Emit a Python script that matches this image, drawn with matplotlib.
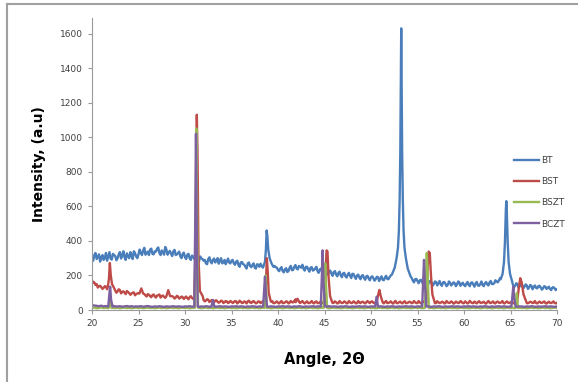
import numpy as np
import matplotlib.pyplot as plt
from matplotlib.lines import Line2D

# --- data (angle 2theta vs intensity, a.u.) ---
grid_x = np.arange(20, 70.001, 0.25)
mid_x = np.arange(20.125, 70, 0.25)

bt_base = [300,
    318, 295, 322, 305, 290, 330, 310, 298, 325, 312, 300, 335, 315, 305, 328, 300, 318, 340, 310, 322,
    330, 345, 320, 338, 350, 325, 340, 355, 330, 345, 320, 350, 335, 325, 340, 318, 330, 310, 325, 305,
    320, 300, 315, 295, 290, 280, 300, 285, 270, 295, 280, 290, 275, 300, 285, 270, 290, 280, 275, 285,
    270, 280, 260, 275, 265, 250, 270, 255, 260, 245, 265, 250, 255, 262, 250, 258, 245, 240, 248, 232,
    240, 225, 235, 220, 245, 230, 250, 240, 255, 245, 238, 250, 235, 245, 228, 240, 225, 235, 220, 228,
    215, 225, 210, 220, 205, 215, 200, 212, 195, 205, 198, 210, 192, 200, 188, 198, 185, 195, 182, 190,
    185, 178, 190, 182, 175, 188, 180, 190, 185, 195, 200, 215, 230, 200, 185, 175, 180, 170, 178, 168,
    172, 160, 168, 155, 165, 158, 150, 162, 155, 148, 160, 152, 145, 158, 150, 155, 148, 160, 150, 145,
    152, 145, 158, 148, 155, 142, 150, 145, 155, 148, 160, 150, 155, 165, 170, 180, 170, 160, 150, 145,
    148, 140, 150, 138, 145, 135, 142, 130, 140, 135, 128, 138, 130, 125, 135, 128, 122, 130, 125, 120]

bt_mid = [
    285, 330, 308, 280, 318, 300, 285, 335, 292, 318, 288, 322, 298, 340, 290, 312, 335, 295, 330, 300,
    350, 318, 360, 330, 318, 355, 322, 338, 362, 318, 335, 365, 320, 342, 312, 348, 322, 338, 300, 332,
    295, 325, 290, 310, 305, 270, 310, 295, 290, 265, 305, 270, 298, 285, 268, 300, 275, 265, 298, 270,
    290, 262, 285, 250, 278, 262, 240, 275, 248, 270, 240, 262, 268, 245, 270, 240, 262, 230, 255, 245,
    225, 248, 218, 242, 225, 255, 232, 260, 235, 250, 262, 228, 250, 222, 248, 232, 250, 215, 240, 210,
    235, 205, 228, 198, 225, 195, 222, 190, 215, 188, 215, 185, 208, 180, 205, 178, 202, 175, 198, 172,
    195, 170, 192, 168, 195, 172, 198, 178, 200, 185, 210, 220, 210, 190, 172, 185, 165, 185, 160, 180,
    155, 175, 148, 172, 145, 168, 140, 165, 142, 168, 140, 162, 138, 165, 142, 160, 138, 165, 140, 158,
    138, 162, 138, 160, 135, 162, 140, 165, 138, 162, 142, 168, 150, 172, 160, 185, 182, 150, 165, 140,
    158, 132, 155, 128, 150, 125, 148, 122, 145, 120, 142, 125, 140, 118, 138, 122, 135, 115, 132, 115]

bst_base = [172,
    160, 150, 138, 132, 128, 135, 140, 125, 118, 112, 108, 115, 105, 100, 110, 98, 95, 102, 92, 98,
    96, 90, 85, 92, 80, 86, 78, 84, 90, 80, 76, 82, 74, 80, 76, 72, 78, 70, 74, 72,
    68, 74, 70, 66, 72, 75, 62, 58, 55, 60, 52, 50, 55, 48, 46, 52, 45, 50, 44, 48,
    46, 50, 44, 48, 42, 46, 50, 44, 48, 45, 42, 48, 44, 46, 42, 45, 48, 40, 44, 42,
    46, 40, 44, 48, 42, 45, 52, 58, 54, 46, 42, 45, 40, 44, 42, 46, 40, 44, 42, 45,
    44, 40, 46, 42, 45, 40, 44, 42, 46, 40, 44, 42, 45, 40, 43, 46, 42, 45, 44, 48,
    42, 45, 40, 44, 42, 46, 40, 44, 42, 45, 40, 44, 42, 46, 40, 43, 45, 42, 44, 40,
    44, 42, 46, 40, 44, 42, 45, 40, 44, 42, 46, 40, 44, 42, 45, 40, 44, 42, 46, 40,
    44, 42, 45, 40, 43, 46, 42, 44, 40, 45, 42, 44, 40, 46, 42, 44, 40, 45, 42, 44,
    42, 44, 40, 45, 42, 44, 40, 43, 45, 42, 40, 44, 42, 45, 40, 43, 42, 44, 40, 42]

bst_mid = [
    158, 145, 130, 140, 122, 138, 120, 130, 105, 118, 100, 120, 96, 108, 92, 104, 88, 100, 85, 96,
    100, 82, 92, 78, 88, 74, 90, 72, 86, 72, 84, 70, 86, 68, 80, 66, 82, 66, 78, 64,
    78, 62, 80, 64, 66, 70, 58, 66, 50, 62, 46, 58, 44, 56, 42, 54, 40, 52, 40, 52,
    40, 52, 38, 54, 40, 50, 38, 54, 40, 52, 38, 50, 40, 52, 40, 48, 38, 52, 40, 50,
    38, 52, 40, 50, 38, 52, 44, 62, 48, 40, 52, 38, 50, 40, 52, 38, 50, 40, 52, 38,
    50, 38, 52, 40, 50, 38, 52, 40, 50, 38, 52, 40, 50, 38, 52, 40, 48, 38, 52, 40,
    50, 39, 51, 40, 49, 38, 52, 41, 50, 37, 53, 40, 49, 38, 51, 40, 48, 39, 52, 40,
    52, 38, 50, 41, 49, 37, 53, 39, 51, 40, 48, 38, 52, 41, 50, 37, 49, 40, 52, 39,
    50, 38, 53, 40, 49, 38, 51, 41, 48, 37, 52, 40, 50, 38, 49, 41, 52, 38, 50, 40,
    49, 38, 52, 40, 50, 37, 51, 39, 48, 40, 52, 38, 49, 41, 50, 37, 48, 40, 50, 38]

bszt_base = [12,
    14, 10, 12, 15, 11, 13, 10, 14, 12, 11, 13, 10, 12, 14, 11, 13, 10, 12, 14, 11,
    13, 10, 12, 14, 11, 13, 10, 12, 14, 11, 13, 10, 12, 14, 11, 13, 10, 12, 14, 11,
    13, 10, 12, 14, 11, 13, 10, 12, 14, 11, 13, 10, 12, 14, 11, 13, 10, 12, 14, 11,
    13, 10, 12, 14, 11, 13, 10, 12, 14, 11, 13, 10, 12, 14, 11, 13, 10, 12, 14, 11,
    13, 10, 12, 14, 11, 13, 10, 12, 14, 11, 13, 10, 12, 14, 11, 13, 10, 12, 14, 11,
    13, 10, 12, 14, 11, 13, 10, 12, 14, 11, 13, 10, 12, 14, 11, 13, 10, 12, 14, 11,
    13, 10, 12, 14, 11, 13, 10, 12, 14, 11, 13, 10, 12, 14, 11, 13, 10, 12, 14, 11,
    13, 10, 12, 14, 11, 13, 10, 12, 14, 11, 13, 10, 12, 14, 11, 13, 10, 12, 14, 11,
    13, 10, 12, 14, 11, 13, 10, 12, 14, 11, 13, 10, 12, 14, 11, 13, 10, 12, 14, 11,
    13, 10, 12, 14, 11, 13, 10, 12, 14, 11, 13, 10, 12, 14, 11, 13, 10, 12, 14, 11]

bczt_base = [28,
    26, 24, 22, 25, 21, 23, 20, 22, 24, 21, 20, 22, 19, 21, 23, 20, 22, 19, 21, 20,
    22, 19, 21, 23, 20, 18, 21, 19, 22, 20, 18, 21, 19, 20, 22, 19, 21, 20, 18, 21,
    20, 22, 19, 21, 20, 18, 21, 19, 22, 20, 18, 21, 19, 20, 22, 19, 21, 20, 18, 21,
    20, 22, 19, 21, 20, 18, 21, 19, 22, 20, 18, 21, 19, 20, 22, 19, 21, 20, 18, 21,
    20, 22, 19, 21, 20, 18, 21, 19, 22, 20, 18, 21, 19, 20, 22, 19, 21, 20, 18, 21,
    20, 22, 19, 21, 20, 18, 21, 19, 22, 20, 18, 21, 19, 20, 22, 19, 21, 20, 18, 21,
    20, 22, 19, 21, 20, 18, 21, 19, 22, 20, 18, 21, 19, 20, 22, 19, 21, 20, 18, 21,
    20, 22, 19, 21, 20, 18, 21, 19, 22, 20, 18, 21, 19, 20, 22, 19, 21, 20, 18, 21,
    20, 22, 19, 21, 20, 18, 21, 19, 22, 20, 18, 21, 19, 20, 22, 19, 21, 20, 18, 21,
    20, 22, 19, 21, 20, 18, 21, 19, 22, 20, 18, 21, 19, 20, 22, 19, 21, 20, 18, 21]

# peaks: each group is (angles, intensities)
bt_peaks = [
    ([38.45, 38.6, 38.7, 38.78, 38.85, 38.95, 39.1, 39.3, 39.5],
     [255, 280, 350, 460, 430, 350, 300, 270, 250]),
    ([52.25, 52.55, 52.75, 52.9, 53.0, 53.08, 53.15, 53.2, 53.25, 53.3, 53.35, 53.42, 53.5,
      53.6, 53.75, 53.95, 54.25],
     [205, 245, 300, 360, 460, 640, 910, 1260, 1630, 1260, 910, 640, 460, 360, 300, 240, 195]),
    ([63.95, 64.15, 64.3, 64.4, 64.45, 64.5, 64.55, 64.6, 64.65, 64.7, 64.8, 64.95, 65.15],
     [178, 209, 277, 390, 480, 580, 630, 580, 480, 390, 277, 209, 170]),
]
bst_peaks = [
    ([21.7, 21.82, 21.92, 22.02, 22.15, 22.4], [135, 180, 272, 200, 150, 125]),
    ([25.1, 25.3, 25.5], [95, 125, 95]),
    ([28.0, 28.2, 28.4], [80, 115, 80]),
    ([31.0, 31.15, 31.27, 31.35, 31.45, 31.6, 31.9], [72, 400, 1130, 900, 300, 110, 80]),
    ([38.55, 38.7, 38.8, 38.9, 39.0, 39.2], [48, 150, 300, 220, 100, 55]),
    ([41.9, 42.1, 42.3], [45, 65, 45]),
    ([45.0, 45.12, 45.22, 45.32, 45.45, 45.6, 45.8], [45, 200, 345, 340, 180, 80, 48]),
    ([50.6, 50.78, 50.9, 51.05, 51.25], [44, 90, 116, 80, 45]),
    ([55.95, 56.1, 56.2, 56.32, 56.45, 56.6, 56.85], [45, 250, 338, 330, 200, 90, 45]),
    ([65.7, 65.9, 66.05, 66.2, 66.4, 66.7], [44, 130, 184, 160, 90, 48]),
]
bszt_peaks = [
    ([21.8, 21.95, 22.1], [12, 60, 12]),
    ([31.05, 31.15, 31.22, 31.3, 31.4], [12, 500, 1050, 600, 14]),
    ([38.55, 38.68, 38.8], [12, 200, 12]),
    ([44.9, 45.0, 45.08, 45.16, 45.28], [12, 150, 270, 150, 12]),
    ([55.8, 55.92, 56.0, 56.1, 56.22], [12, 200, 330, 200, 12]),
    ([65.55, 65.68, 65.8], [12, 98, 12]),
]
bczt_peaks = [
    ([21.75, 21.88, 21.95, 22.05, 22.2], [20, 100, 135, 60, 20]),
    ([31.0, 31.1, 31.18, 31.26, 31.36], [20, 500, 1020, 500, 20]),
    ([32.85, 33.0, 33.15], [20, 58, 20]),
    ([38.4, 38.52, 38.6, 38.7, 38.82], [20, 120, 193, 90, 20]),
    ([44.6, 44.72, 44.8, 44.9, 45.05], [20, 200, 345, 150, 20]),
    ([50.45, 50.6, 50.75], [20, 77, 20]),
    ([55.5, 55.62, 55.7, 55.8, 55.95], [20, 180, 290, 150, 20]),
    ([65.1, 65.22, 65.3, 65.4, 65.55], [20, 90, 135, 70, 20]),
]

labels = ['BT', 'BST', 'BSZT', 'BCZT']
colors = ['#4A7EBB', '#BE4B48', '#98B954', '#7D60A0']


def build(base, mid, peaks):
    x = np.asarray(grid_x)
    y = np.asarray(base, dtype=float)
    if mid is not None:
        x = np.concatenate([x, mid_x])
        y = np.concatenate([y, np.asarray(mid, dtype=float)])
    keep = np.ones_like(x, dtype=bool)
    for px, _ in peaks:
        keep &= ~((x >= px[0]) & (x <= px[-1]))
    xs = list(x[keep])
    ys = list(y[keep])
    for px, py in peaks:
        xs += px
        ys += py
    order = np.argsort(xs)
    return np.array(xs)[order], np.array(ys)[order]


fig = plt.figure(figsize=(5.78, 3.82), dpi=100)
ax = fig.add_axes([92 / 578, 1 - 310 / 382, (557 - 92) / 578, (310 - 18) / 382])

series = [(bt_base, bt_mid, bt_peaks), (bst_base, bst_mid, bst_peaks),
          (bszt_base, None, bszt_peaks), (bczt_base, None, bczt_peaks)]
for (base, mid, peaks), lab, col in zip(series, labels, colors):
    xs, ys = build(base, mid, peaks)
    ax.plot(xs, ys, color=col, lw=1.7, label=lab, solid_joinstyle='round')

ax.set_xlim(20, 70)
ax.set_ylim(0, 1690)
ax.set_xticks(range(20, 71, 5))
ax.set_yticks(range(0, 1601, 200))
for s in ['top', 'right']:
    ax.spines[s].set_visible(False)
for s in ['left', 'bottom']:
    ax.spines[s].set_color('#9a9a9a')
    ax.spines[s].set_linewidth(0.8)
ax.tick_params(colors='#9a9a9a', labelcolor='#404040', labelsize=6.5, length=3, width=0.8)

ax.set_xlabel('Angle, 2Θ', fontsize=10.5, fontweight='bold', labelpad=17)
ax.set_ylabel('Intensity, (a.u)', fontsize=10, fontweight='bold', labelpad=10)

ax.legend(loc='upper left', bbox_to_anchor=(514 / 578, 1 - 156 / 382), bbox_transform=fig.transFigure,
          frameon=False, fontsize=6.5, labelspacing=1.35, handlelength=2.75, handletextpad=0.25,
          borderpad=0, borderaxespad=0, labelcolor='#404040')

# outer chart border (left and top only visible)
fig.add_artist(Line2D([7 / 578, 7 / 578], [0, 1 - 4 / 382], color='#a0a0a0', lw=1.5))
fig.add_artist(Line2D([7 / 578, 1], [1 - 4 / 382, 1 - 4 / 382], color='#a0a0a0', lw=1.5))

fig.savefig('out.png', dpi=100)
